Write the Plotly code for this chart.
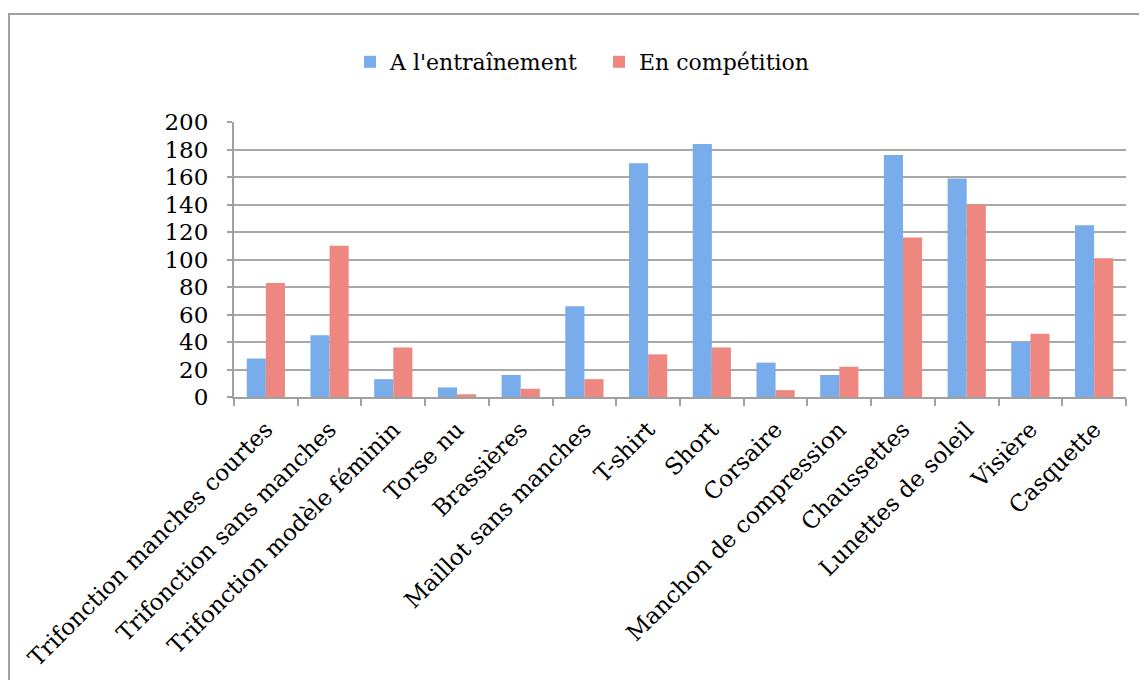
import plotly.graph_objects as go

categories = ["Trifonction manches courtes", "Trifonction sans manches", "Trifonction modèle féminin",
              "Torse nu", "Brassières", "Maillot sans manches", "T-shirt", "Short", "Corsaire",
              "Manchon de compression", "Chaussettes", "Lunettes de soleil", "Visière", "Casquette"]
entrainement = [28, 45, 13, 7, 16, 66, 170, 184, 25, 16, 176, 159, 40, 125]
competition = [83, 110, 36, 2, 6, 13, 31, 36, 5, 22, 116, 140, 46, 101]
y_ticks = [0, 20, 40, 60, 80, 100, 120, 140, 160, 180, 200]

FONT = "DejaVu Serif"
OFF = 8  # default page body margin
W, H = 1147 - OFF, 680 - OFF
L = 234 - OFF
T = 122 - OFF
PR = 1126 - OFF
PB = 397 - OFF
R, B = W - PR, H - PB
pw, ph = PR - L, PB - T

fig = go.Figure()
fig.add_trace(go.Bar(name="A l'entraînement", x=categories, y=entrainement,
                     marker=dict(color="#79acea", line=dict(width=0))))
fig.add_trace(go.Bar(name="En compétition", x=categories, y=competition,
                     marker=dict(color="#ef8781", line=dict(width=0))))

def px_x(x):
    return (x - OFF - L) / pw

def px_y(y):
    return (PB - (y - OFF)) / ph

fig.update_layout(
    width=W, height=H,
    margin=dict(l=L, r=R, t=T, b=B, autoexpand=False),
    paper_bgcolor="white", plot_bgcolor="white",
    barmode="group", bargap=0.40, bargroupgap=0.0,
    font=dict(family=FONT, size=23, color="black"),
    legend=dict(orientation="h", x=px_x(350), xanchor="left", y=px_y(62), yanchor="middle",
                font=dict(family=FONT, size=22), traceorder="normal",
                entrywidth=204, entrywidthmode="pixels", itemwidth=30),
    xaxis=dict(tickangle=-45, showgrid=False, showline=True, linecolor="#a0a0a0", linewidth=2,
               ticks="outside", tickson="boundaries", ticklen=7, tickcolor="#a0a0a0", tickwidth=2,
               ticklabelstandoff=8, tickfont=dict(family=FONT, size=23)),
    yaxis=dict(range=[0, 200], tickvals=y_ticks, showgrid=True, gridcolor="#a8a8a8", gridwidth=2,
               showline=True, linecolor="#a0a0a0", linewidth=2, ticks="outside", ticklen=5,
               tickcolor="#a0a0a0", tickwidth=2, zeroline=False, ticklabelstandoff=14,
               tickfont=dict(family=FONT, size=23)),
    shapes=[dict(type="rect", xref="paper", yref="paper",
                 x0=px_x(9), x1=px_x(1160), y0=px_y(700), y1=px_y(14),
                 line=dict(color="#a0a0a0", width=2), layer="below")],
)

fig.write_html("out.html")
